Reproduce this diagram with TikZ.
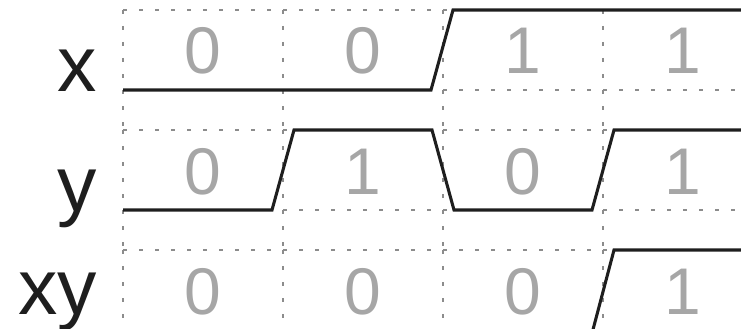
\documentclass[tikz,border=0pt]{standalone}
\usepackage{fontspec}
\setmainfont{Liberation Sans}
\definecolor{digitgray}{HTML}{A6A6A6}
\definecolor{gridgray}{HTML}{8C8C8C}
\definecolor{sigblack}{HTML}{1E1E1E}
\begin{document}
\begin{tikzpicture}[x=0.75pt,y=-0.75pt,
  gridline/.style={draw=gridgray,line width=1.1pt,dash pattern=on 3pt off 9pt},
  signal/.style={draw=sigblack,line width=2.3pt,line join=miter},
  digit/.style={text=digitgray,font=\fontsize{49.5}{50}\selectfont,anchor=base,inner sep=0pt},
  rowlabel/.style={text=sigblack,font=\fontsize{59}{60}\selectfont,anchor=base east,inner sep=0pt}]
\useasboundingbox (0,0) rectangle (741,328);
\clip (0,0) rectangle (741,328);
% grid cells: top edge, bottom edge, left edge, and the gap below
\foreach \gy in {10,130,250} {
  \foreach \gx in {123,283,443,603} {
    \draw[gridline] (\gx,\gy) -- (\gx+160,\gy);
    \draw[gridline] (\gx,\gy+80) -- (\gx+160,\gy+80);
    \draw[gridline] (\gx,\gy) -- (\gx,\gy+80);
    \draw[gridline] (\gx,\gy+80) -- (\gx,\gy+120);
  }
}
% labels
\node[rowlabel] (lx) at (97,91) {x};
\node[rowlabel] (ly) at (97,211) {y};
\node[rowlabel] (lxy) at (97,314) {xy};
% digits
\foreach \v [count=\i] in {0,0,1,1} \node[digit] (dx\i) at (43+160*\i,74) {\v};
\foreach \v [count=\i] in {0,1,0,1} \node[digit] (dy\i) at (43+160*\i,194) {\v};
\foreach \v [count=\i] in {0,0,0,1} \node[digit] (dxy\i) at (43+160*\i,314) {\v};
% signals
\draw[signal] (123,90) -- (431,90) -- (453,10) -- (760,10);
\draw[signal] (123,210) -- (272,210) -- (294,130) -- (432,130) -- (454,210) -- (592,210) -- (614,130) -- (760,130);
\draw[signal] (123,331.5) -- (592.5,331.5) -- (614,250) -- (760,250);
\end{tikzpicture}
\end{document}
